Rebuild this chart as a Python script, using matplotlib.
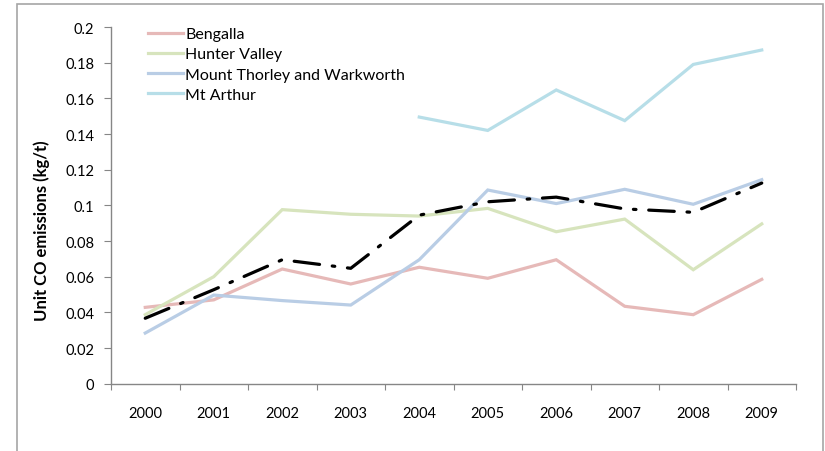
import numpy as np
import matplotlib
matplotlib.use("Agg")
import matplotlib.pyplot as plt
from matplotlib.patches import Rectangle

plt.rcParams['font.family'] = ['Lato', 'DejaVu Sans']

years = ["2000", "2001", "2002", "2003", "2004", "2005", "2006", "2007", "2008", "2009"]
bengalla = [0.0428, 0.0470, 0.0643, 0.0559, 0.0653, 0.0591, 0.0695, 0.0434, 0.0387, 0.0585]
hunter_valley = [0.0387, 0.0600, 0.0976, 0.0950, 0.0940, 0.0983, 0.0852, 0.0923, 0.0639, 0.0896]
mount_thorley = [0.0284, 0.0497, 0.0466, 0.0441, 0.0695, 0.1086, 0.1010, 0.1090, 0.1006, 0.1144]
mt_arthur = [np.nan, np.nan, np.nan, np.nan, 0.1495, 0.1420, 0.1647, 0.1475, 0.1790, 0.1871]
average = [0.0367, 0.0527, 0.0695, 0.0647, 0.0945, 0.1020, 0.1046, 0.0980, 0.0961, 0.1125]

W, H = 825, 452
fig = plt.figure(figsize=(W / 100, H / 100), dpi=100)
ax = fig.add_axes([111 / W, 1 - 384.7 / H, 685 / W, 356.7 / H])

x = np.arange(len(years))
l1, = ax.plot(x, bengalla, color="#E6B9B8", lw=2.3, solid_joinstyle="miter")
l2, = ax.plot(x, hunter_valley, color="#D7E4BD", lw=2.3, solid_joinstyle="miter")
l3, = ax.plot(x, mount_thorley, color="#B9CDE5", lw=2.3, solid_joinstyle="miter")
l4, = ax.plot(x, mt_arthur, color="#B7DEE8", lw=2.3, solid_joinstyle="miter")
ax.plot(x, average, color="black", lw=2.3, dashes=(8, 4, 0.8, 4),
        dash_capstyle="round")

ax.set_xlim(-0.5, 9.5)
ax.set_ylim(0, 0.2)
ax.set_yticks(np.arange(0, 0.21, 0.02))
ax.set_yticklabels(["0", "0.02", "0.04", "0.06", "0.08", "0.1", "0.12",
                    "0.14", "0.16", "0.18", "0.2"])
ax.set_xticks(np.arange(-0.5, 10, 1))
ax.set_xticklabels([])
ax.set_xticks(x, minor=True)
ax.set_xticklabels(years, minor=True)

for s in ["top", "right"]:
    ax.spines[s].set_visible(False)
for s in ["left", "bottom"]:
    ax.spines[s].set_color("#868686")
    ax.spines[s].set_linewidth(1)

ax.tick_params(axis="y", which="major", direction="out", length=5, color="#868686",
               labelsize=10.5, pad=7)
ax.tick_params(axis="x", which="major", direction="out", length=4.5, color="#868686")
ax.tick_params(axis="x", which="minor", length=0, labelsize=10.5, pad=16)

fig.text(42 / W, 1 - 231 / H, "Unit CO emissions (kg/t)", rotation=90,
         ha="center", va="center", fontsize=12, fontweight="bold")

fig.legend([l1, l2, l3, l4],
           ["Bengalla", "Hunter Valley", "Mount Thorley and Warkworth", "Mt Arthur"],
           loc="upper left", bbox_to_anchor=(148 / W, 1 - 28 / H), frameon=False,
           fontsize=11.5, handlelength=2.2, handletextpad=0.12, labelspacing=0.38,
           borderpad=0, borderaxespad=0)

fig.patches.append(Rectangle((17 / W, -0.1), (823 - 17) / W, 1.1 - 5 / H,
                             transform=fig.transFigure, fill=False,
                             edgecolor="#A6A6A6", lw=1.2))

fig.savefig("out.png", dpi=100)
